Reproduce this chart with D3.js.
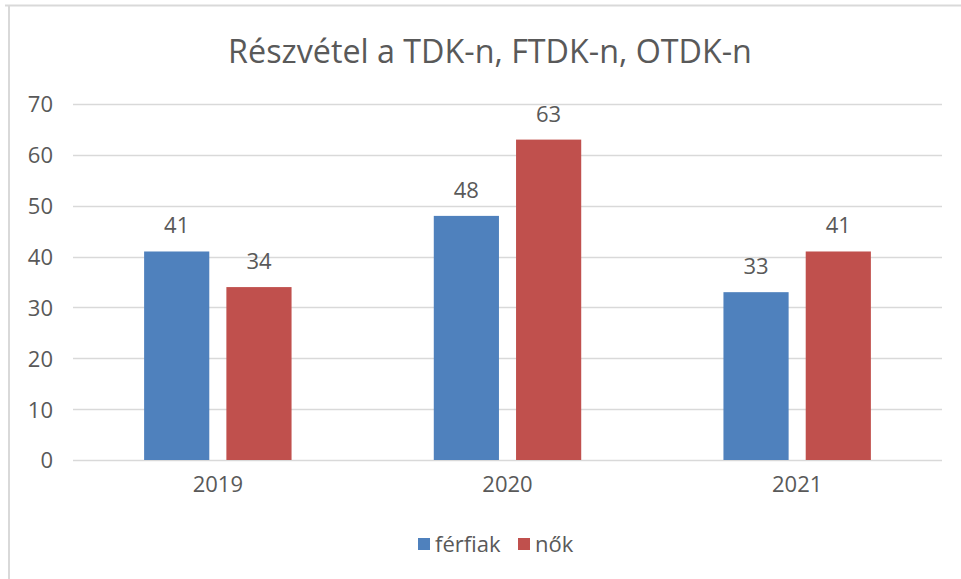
<!DOCTYPE html>
<html><head><meta charset="utf-8">
<script src="https://cdn.jsdelivr.net/npm/d3@7"></script>
<style>body{margin:0;background:#fff}svg{display:block}</style>
</head><body>
<svg id="c" width="961" height="579"></svg>
<script>
const title = "Részvétel a TDK-n, FTDK-n, OTDK-n";
const years = ["2019", "2020", "2021"];
const seriesNames = ["férfiak", "nők"];
const ferfiak = [41, 48, 33];
const nok = [34, 63, 41];
const yTicks = [0, 10, 20, 30, 40, 50, 60, 70];
const colors = ["#4F81BD", "#C0504D"];

const svg = d3.select("#c");
const font = "'Open Sans', sans-serif";
const txt = "#595959";

// frame
svg.append("line").attr("x1", 5).attr("x2", 961).attr("y1", 5.5).attr("y2", 5.5).attr("stroke", "#d9d9d9").attr("stroke-width", 2);
svg.append("line").attr("x1", 9).attr("x2", 9).attr("y1", 5).attr("y2", 579).attr("stroke", "#d9d9d9").attr("stroke-width", 2);

const x = d3.scaleBand().domain(years).range([73, 942]);
const y = d3.scaleLinear().domain([0, 70]).range([460, 104]);

// grid
svg.append("g").selectAll("line").data(yTicks).join("line")
  .attr("x1", 73).attr("x2", 942)
  .attr("y1", d => Math.round(y(d)) + 0.5).attr("y2", d => Math.round(y(d)) + 0.5)
  .attr("stroke", "#d9d9d9").attr("stroke-width", 1.5);

// y axis labels
const yAxis = d3.axisLeft(y).tickValues(yTicks).tickSize(0).tickPadding(0);
const gy = svg.append("g").attr("transform", "translate(53,0)").call(yAxis);
gy.select(".domain").remove();
gy.selectAll("text").attr("font-family", font).attr("font-size", 22).attr("fill", txt).attr("dy", "0.36em");

// x axis labels
const xAxis = d3.axisBottom(x).tickSize(0).tickPadding(0);
const gx = svg.append("g").attr("transform", "translate(0,484)").call(xAxis);
gx.select(".domain").remove();
gx.selectAll("text").attr("font-family", font).attr("font-size", 22).attr("fill", txt).attr("dy", "0.35em");

// bars
const bw = x.bandwidth() * 0.225;
const off = x.bandwidth() * 0.142;
const data = [];
years.forEach((yr, i) => {
  data.push({yr, v: ferfiak[i], s: 0});
  data.push({yr, v: nok[i], s: 1});
});
const cx = d => x(d.yr) + x.bandwidth() / 2 + (d.s === 0 ? -off : off);
svg.append("g").selectAll("rect").data(data).join("rect")
  .attr("x", d => cx(d) - bw / 2).attr("width", bw)
  .attr("y", d => y(d.v)).attr("height", d => y(0) - y(d.v))
  .attr("fill", d => colors[d.s]);

svg.append("g").selectAll("text").data(data).join("text")
  .attr("x", cx).attr("y", d => y(d.v) - 18)
  .attr("text-anchor", "middle").attr("font-family", font).attr("font-size", 22).attr("fill", txt)
  .text(d => d.v);

// title
const t = svg.append("text").attr("x", 490).attr("y", 63).attr("text-anchor", "middle")
  .attr("font-family", font).attr("font-size", 29).attr("fill", txt).text(title);
const tw = t.node().getComputedTextLength();
t.attr("font-size", 29 * 524 / tw);

// legend
const lg = svg.append("g");
const legX = [418, 518];
seriesNames.forEach((n, i) => {
  lg.append("rect").attr("x", legX[i]).attr("y", 538).attr("width", 12).attr("height", 12).attr("fill", colors[i]);
  lg.append("text").attr("x", legX[i] + 17).attr("y", 544).attr("dy", "0.36em")
    .attr("font-family", font).attr("font-size", 22).attr("fill", txt).text(n);
});
</script>
</body></html>
